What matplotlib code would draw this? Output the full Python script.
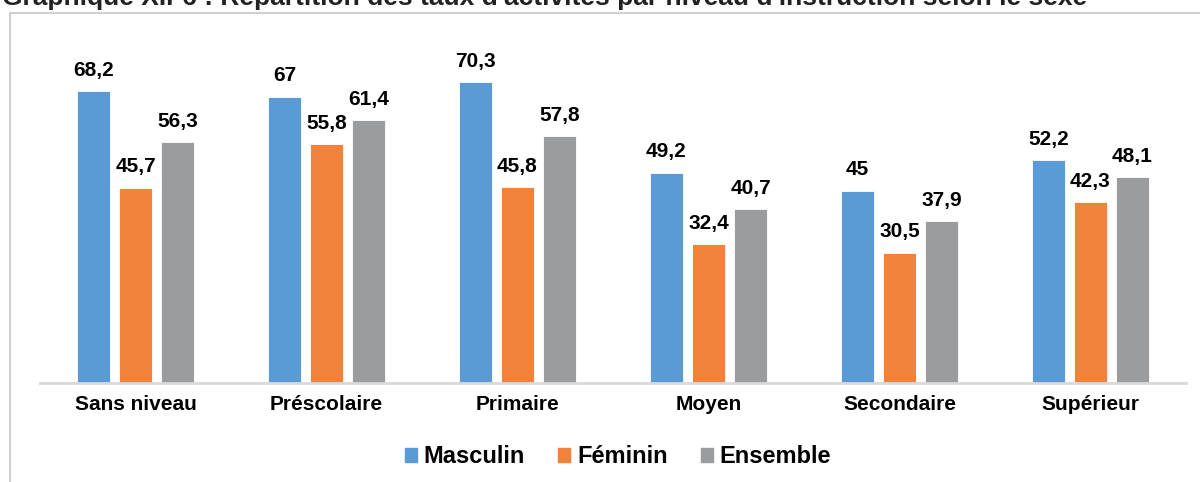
import numpy as np
import matplotlib.pyplot as plt
from matplotlib.patches import Rectangle, Patch

# données
niveaux = ["Sans niveau", "Préscolaire", "Primaire", "Moyen", "Secondaire", "Supérieur"]
masculin = [68.2, 67, 70.3, 49.2, 45, 52.2]
feminin = [45.7, 55.8, 45.8, 32.4, 30.5, 42.3]
ensemble = [56.3, 61.4, 57.8, 40.7, 37.9, 48.1]

series = [("Masculin", masculin, "#5b9bd5"),
          ("Féminin", feminin, "#f0823b"),
          ("Ensemble", ensemble, "#9a9c9d")]

plt.rcParams['font.family'] = ['Liberation Sans', 'DejaVu Sans']

fig = plt.figure(figsize=(12, 4.82), dpi=100)
ax = fig.add_axes([0.0333, 0.2054, 0.955, 0.7096])

x = np.arange(len(niveaux))
width = 0.173
step = 0.22

for i, (nom, vals, col) in enumerate(series):
    pos = x + (i - 1) * step
    ax.bar(pos, vals, width, color=col, edgecolor='white', linewidth=0.6, label=nom)
    for xi, v in zip(pos, vals):
        txt = f"{v:g}".replace('.', ',')
        ax.annotate(txt, (xi, v), xytext=(0, 11), textcoords='offset points',
                    ha='center', va='baseline', fontsize=15, fontweight='bold')

ax.set_xlim(-0.5, 5.5)
ax.set_ylim(0, 80)
ax.set_xticks(x)
ax.set_xticklabels(niveaux, fontsize=15, fontweight='bold')
ax.tick_params(axis='x', length=0, pad=9)
ax.set_yticks([])
for s in ['top', 'right', 'left']:
    ax.spines[s].set_visible(False)
ax.spines['bottom'].set_color('#d9d9d9')
ax.spines['bottom'].set_linewidth(2)

# cadre du graphique
fig.patches.append(Rectangle((10 / 1200, -0.05), 1.1, 1 - 13 / 482 + 0.05,
                             transform=fig.transFigure, fill=False,
                             edgecolor='#d0d0d0', linewidth=1.5))

# titre (coupé en haut comme dans l'original)
fig.text(0.002, 1 - 5 / 482, "Graphique XII-6 : Répartition des taux d'activités par niveau d'instruction selon le sexe",
         ha='left', va='baseline', fontsize=19, fontweight='bold', color='#222222')

handles = [Patch(color=c, label=n) for n, _, c in series]
fig.legend(handles=handles, loc='center', bbox_to_anchor=(0.515, 0.052), ncol=3,
           frameon=False, prop={'size': 17, 'weight': 'bold'},
           handlelength=0.5, handleheight=0.5, handletextpad=0.3, columnspacing=1.4)

plt.savefig("out.png", dpi=100)
